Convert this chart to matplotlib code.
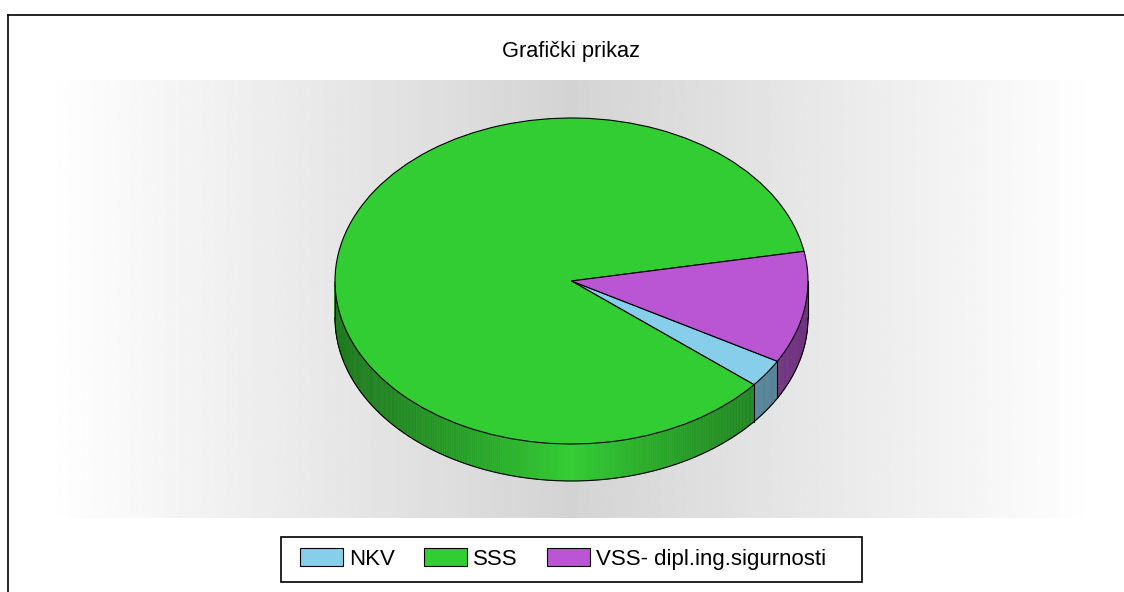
import numpy as np
import matplotlib.pyplot as plt
from matplotlib.patches import Polygon, Patch, Rectangle
from matplotlib.lines import Line2D
from matplotlib.colors import to_rgb

# data
labels = ['NKV', 'SSS', 'VSS- dipl.ing.sigurnosti']
values = [1, 31, 4]
colors = ['#87CEEB', '#32CD32', '#BA55D3']
title = 'Grafički prikaz'

plt.rcParams['font.family'] = ['Liberation Sans', 'DejaVu Sans']

W, H = 1124, 592
fig = plt.figure(figsize=(W / 100, H / 100), dpi=100)


def fig_rect(x0, y0, x1, y1):
    """Pixel box (top-left origin) -> figure fraction rect."""
    return [x0 / W, 1 - y1 / H, (x1 - x0) / W, (y1 - y0) / H]


# grey horizontal gradient behind the pie
bg = fig.add_axes(fig_rect(45, 80, 1097, 518))
u = np.linspace(-1, 1, 800)
shade = 1 - 0.17 * (1 - np.abs(u))
bg.imshow(shade[None, :], cmap='gray', vmin=0, vmax=1, aspect='auto',
          extent=(0, 1, 0, 1), interpolation='bilinear')
bg.axis('off')

# pie axes: unit circle maps onto the ellipse of the top face
cx, cy, rx, ry, depth = 571.5, 281, 236.5, 163, 37
px0, py0, px1, py1 = 300, 100, 843, 500
ax = fig.add_axes(fig_rect(px0, py0, px1, py1))
d = depth / ry

wedges, _ = ax.pie(values, colors=colors, startangle=-29.5, counterclock=False,
                   radius=1, wedgeprops=dict(edgecolor='black', linewidth=0.8))
for w in wedges:
    w.set_zorder(3)
ax.set_aspect('auto')
ax.set_xlim((px0 - cx) / rx, (px1 - cx) / rx)
ax.set_ylim((cy - py1) / ry, (cy - py0) / ry)
ax.axis('off')


def wall_factor(c):
    return 0.6 + 0.4 * (1 - abs(c)) ** 1.3


# side walls (front half only), shaded in thin strips
edges = []
for w, col in zip(wedges, colors):
    base = np.array(to_rgb(col))
    for k in (-360, 0, 360, 720):
        lo = max(w.theta1 + k, 180)
        hi = min(w.theta2 + k, 360)
        if lo >= hi:
            continue
        edges += [lo, hi]
        ts = np.linspace(lo, hi, max(2, int((hi - lo) * 2) + 1))
        for t1, t2 in zip(ts[:-1], ts[1:]):
            a1, a2 = np.radians(t1), np.radians(t2)
            fc = base * wall_factor(np.cos((a1 + a2) / 2))
            pts = [(np.cos(a1), np.sin(a1)), (np.cos(a2), np.sin(a2)),
                   (np.cos(a2), np.sin(a2) - d), (np.cos(a1), np.sin(a1) - d)]
            ax.add_patch(Polygon(pts, closed=True, facecolor=fc, edgecolor=fc,
                                 linewidth=0.4, zorder=1))

# wall outlines
t = np.radians(np.linspace(180, 360, 300))
ax.plot(np.cos(t), np.sin(t) - d, color='black', lw=0.8, zorder=2)
for e in sorted(set(edges)):
    a = np.radians(e)
    ax.plot([np.cos(a)] * 2, [np.sin(a), np.sin(a) - d], color='black', lw=0.8, zorder=2)

# title
fig.text(571.5 / W, 1 - 57 / H, title, ha='center', va='baseline', fontsize=15.7)

# legend: own frame box, entries placed inside it
fr = fig_rect(281, 537, 862, 582)
fig.add_artist(Rectangle((fr[0], fr[1]), fr[2], fr[3], transform=fig.transFigure,
                         facecolor='white', edgecolor='black', linewidth=1.2))
handles = [Patch(facecolor=c, edgecolor='black', linewidth=0.8) for c in colors]
leg = fig.legend(handles, labels, loc='center left', bbox_to_anchor=(300 / W, 1 - 559 / H),
                 ncol=3, fontsize=16, frameon=False,
                 handlelength=1.95, handleheight=0.85, handletextpad=0.27,
                 columnspacing=1.3, borderpad=0, borderaxespad=0)

# outer frame (top and left edges only)
fig.add_artist(Line2D([8 / W, 8 / W], [0, 1 - 15 / H], color='black', lw=1.2))
fig.add_artist(Line2D([8 / W, 1], [1 - 15 / H, 1 - 15 / H], color='black', lw=1.2))

fig.savefig('out.png', dpi=100)
